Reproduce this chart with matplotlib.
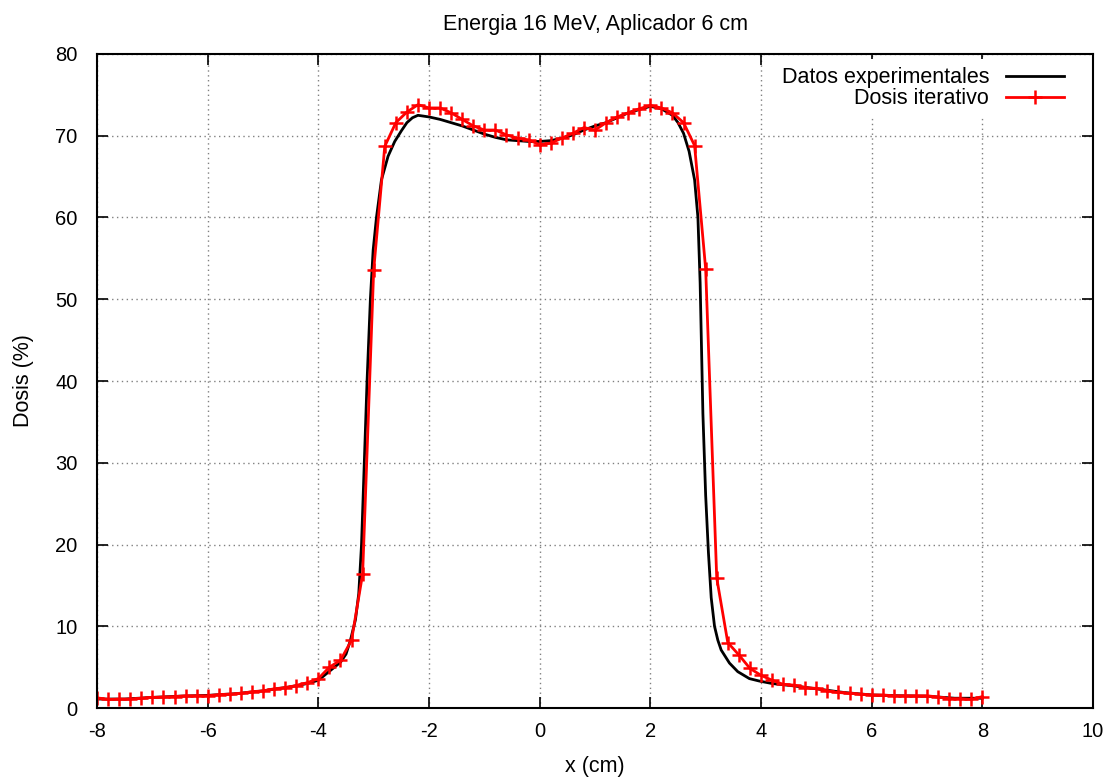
import numpy as np
import matplotlib
matplotlib.use("Agg")
import matplotlib.pyplot as plt

plt.rcParams['font.family'] = ['Liberation Sans', 'DejaVu Sans']
plt.rcParams['axes.unicode_minus'] = False

# Datos experimentales (curva continua)
x_exp = [-8.0, -7.5, -7.0, -6.5, -6.0, -5.5, -5.0, -4.5, -4.2, -4.0, -3.8, -3.6,
         -3.5, -3.42, -3.33, -3.27, -3.22, -3.17, -3.12, -3.06, -3.01, -2.95,
         -2.86, -2.74, -2.62, -2.5, -2.4, -2.3, -2.2, -2.0, -1.8, -1.6, -1.4,
         -1.2, -1.0, -0.8, -0.6, -0.4, -0.2, 0.0, 0.2, 0.4, 0.6, 0.8, 1.0, 1.2,
         1.4, 1.6, 1.8, 2.0, 2.2, 2.4, 2.5, 2.6, 2.7, 2.8, 2.86, 2.9, 2.95, 3.0,
         3.05, 3.1, 3.16, 3.22, 3.28, 3.43, 3.58, 3.79, 3.97, 4.2, 4.4, 4.6, 5.0,
         5.5, 6.0, 6.5, 7.0, 7.5, 8.0]
y_exp = [1.1, 1.1, 1.3, 1.45, 1.55, 1.75, 2.1, 2.6, 3.0, 3.4, 4.5, 5.6,
         6.6, 8.3, 10.8, 14.0, 20.0, 30.0, 40.0, 50.0, 56.0, 60.0,
         64.6, 67.5, 69.3, 70.6, 71.6, 72.2, 72.5, 72.3, 72.0, 71.6, 71.2,
         70.7, 70.2, 69.8, 69.5, 69.4, 69.3, 69.3, 69.4, 69.7, 70.1, 70.7, 71.2, 71.6,
         72.2, 72.8, 73.2, 73.6, 73.3, 72.5, 71.6, 70.3, 68.1, 64.6, 60.0, 52.0, 36.0, 26.0,
         19.0, 13.5, 10.0, 8.3, 7.1, 5.5, 4.45, 3.6, 3.3, 3.0, 2.85, 2.7, 2.35,
         1.9, 1.6, 1.5, 1.45, 1.2, 1.2]

# Dosis iterativo (paso 0.2 cm)
x_it = np.round(np.arange(-8.0, 8.01, 0.2), 1)
y_it = [1.25, 1.05, 1.1, 1.1, 1.2, 1.3, 1.35, 1.4, 1.5, 1.5,
        1.5, 1.65, 1.7, 1.8, 2.0, 2.1, 2.35, 2.5, 2.75, 3.1,
        3.6, 5.0, 5.85, 8.3, 16.4, 53.6, 68.7, 71.6, 72.9, 73.8,
        73.4, 73.4, 72.8, 72.0, 71.2, 70.7, 70.7, 70.1, 69.7, 69.5,
        68.9, 69.1, 69.7, 70.3, 71.0, 70.7, 71.6, 72.3, 72.8, 73.3,
        73.7, 73.4, 72.8, 71.6, 68.8, 53.7, 15.9, 8.0, 6.5, 4.85,
        4.0, 3.4, 2.9, 2.8, 2.5, 2.4, 2.1, 1.9, 1.8, 1.7,
        1.6, 1.6, 1.5, 1.5, 1.5, 1.5, 1.35, 1.15, 1.15, 1.05,
        1.4]

fig = plt.figure(figsize=(11.13, 7.79), dpi=100)
ax = fig.add_axes([0.0872, 0.0911, 0.8948, 0.8396])

ax.plot(x_exp, y_exp, color='black', lw=2, label='Datos experimentales')
ax.plot(x_it, y_it, color='red', lw=2, marker='+', ms=10, mew=1.8,
        label='Dosis iterativo')

ax.set_xlim(-8, 10)
ax.set_ylim(0, 80)
ax.set_xticks(range(-8, 11, 2))
ax.set_yticks(range(0, 81, 10))
ax.grid(True, color='gray', linestyle=(0, (1, 2.5)), lw=1)
ax.tick_params(direction='in', length=8, width=1.2, top=True, right=True,
               labelsize=14.5)
ax.tick_params(axis='x', pad=10)
ax.tick_params(axis='y', pad=14)
for s in ax.spines.values():
    s.set_linewidth(1.5)

ax.set_title('Energia 16 MeV, Aplicador 6 cm', fontsize=15.5, pad=17)
ax.set_xlabel('x (cm)', fontsize=15.5, labelpad=11)
ax.set_ylabel('Dosis (%)', fontsize=15.5, labelpad=15)

leg = ax.legend(loc='upper right', markerfirst=False, frameon=True,
                fontsize=15.5, handlelength=2.7, borderaxespad=0,
                bbox_to_anchor=(0.98, 0.993),
                labelspacing=0.0, handletextpad=0.8)
leg.get_frame().set_edgecolor('none')
leg.get_frame().set_alpha(1)
leg.get_frame().set_boxstyle('square', pad=0)
for t in leg.get_texts():
    t.set_ha('right')
leg._legend_box.align = 'right'

fig.savefig('out.png', dpi=100)
